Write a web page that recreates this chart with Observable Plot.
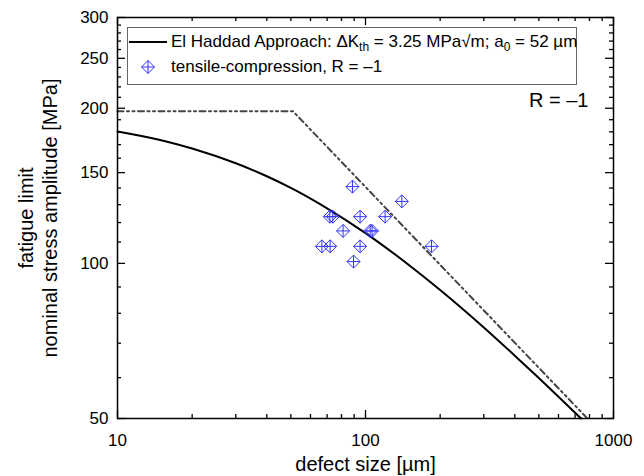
<!DOCTYPE html>
<html><head><meta charset="utf-8">
<script src="https://cdn.jsdelivr.net/npm/d3@7"></script>
<script src="https://cdn.jsdelivr.net/npm/@observablehq/plot@0.6"></script>
<style>
body{margin:0;background:#fff;font-family:Arial,"Liberation Sans",sans-serif;}
#wrap{position:relative;width:644px;height:476px;overflow:hidden;}
#legend{position:absolute;left:127px;top:27px;width:450px;height:58px;border:1px solid #666;box-sizing:border-box;background:#fff;font-size:17px;color:#000;}
.row{position:absolute;left:0;height:20px;line-height:20px;white-space:nowrap;}
.row svg{position:absolute;top:0;}
.row span{position:absolute;left:43px;top:0;}
sub{font-size:12px;vertical-align:-4px;line-height:0;}
#rlabel{position:absolute;left:529px;top:90px;font-size:20px;line-height:20px;color:#000;}
</style></head>
<body><div id="wrap"></div>
<script>
// El Haddad curve
const curveX = [10, 15, 20, 30, 40, 50, 70, 100, 150, 200, 300, 400, 500, 600, 740];
const curveY = [180.3, 173.4, 167.1, 156.4, 147.6, 140.1, 127.9, 114.5, 99.2, 88.8, 75.1, 66.2, 59.9, 55.1, 50];
// dash-dot limit line
const limitX = [10, 51, 785];
const limitY = [197.3, 197.3, 50];
// tensile-compression, R = -1 test points
const pointsX = [88.6, 140.1, 71.8, 73.8, 95.1, 120.0, 81.2, 104.4, 106.3, 66.7, 72.0, 95.1, 184.6, 89.5];
const pointsY = [140.9, 131.9, 123.2, 123.2, 123.2, 123.2, 115.6, 115.6, 115.6, 107.9, 107.9, 107.9, 107.9, 100.8];
// ticks
const xMajor = [10, 100, 1000];
const xMinor = [20, 30, 40, 50, 60, 70, 80, 90, 200, 300, 400, 500, 600, 700, 800, 900];
const yMajor = [50, 100, 150, 200, 250, 300];
const yMinor = [60, 70, 80, 90, 110, 120, 130, 140, 160, 170, 180, 190, 210, 220, 230, 240, 260, 270, 280, 290];

const W = 644, H = 476, mL = 117, mR = 31, mT = 17, mB = 58;
const PW = W - mL - mR, PH = H - mT - mB;

const curve = curveX.map((x, i) => ({x, y: curveY[i]}));
const limit = limitX.map((x, i) => ({x, y: limitY[i]}));
const pts = pointsX.map((x, i) => ({x, y: pointsY[i]}));

const diamondPlus = {
  draw(ctx, size) {
    const r = Math.sqrt(size / Math.PI);
    ctx.moveTo(0, -r); ctx.lineTo(r, 0); ctx.lineTo(0, r); ctx.lineTo(-r, 0); ctx.closePath();
    ctx.moveTo(0, -r); ctx.lineTo(0, r);
    ctx.moveTo(-r, 0); ctx.lineTo(r, 0);
  }
};

const tk = {stroke: "#000", strokeWidth: 1.3};
const chart = Plot.plot({
  width: W, height: H,
  marginLeft: mL, marginRight: mR, marginTop: mT, marginBottom: mB,
  style: {fontFamily: "Arial, 'Liberation Sans', sans-serif", fontSize: "17px", color: "#000", background: "#fff"},
  x: {type: "log", domain: [10, 1000]},
  y: {type: "log", domain: [50, 300]},
  marks: [
    Plot.line(limit, {x: "x", y: "y", stroke: "#444", strokeWidth: 2, strokeDasharray: "6,3.5,2,3.5,2,3.5"}),
    Plot.line(curve, {x: "x", y: "y", stroke: "#000", strokeWidth: 2, curve: "monotone-x"}),
    Plot.dot(pts, {x: "x", y: "y", symbol: diamondPlus, r: 6.5, stroke: "#3333ff", fill: "none", strokeWidth: 1}),
    // inward ticks, all four sides
    Plot.tickX(xMajor, {x: d => d, insetTop: PH - 8, ...tk}),
    Plot.tickX(xMinor, {x: d => d, insetTop: PH - 4, ...tk}),
    Plot.tickX(xMajor, {x: d => d, insetBottom: PH - 8, ...tk}),
    Plot.tickX(xMinor, {x: d => d, insetBottom: PH - 4, ...tk}),
    Plot.tickY(yMajor, {y: d => d, insetRight: PW - 8, ...tk}),
    Plot.tickY(yMinor, {y: d => d, insetRight: PW - 4, ...tk}),
    Plot.tickY(yMajor, {y: d => d, insetLeft: PW - 8, ...tk}),
    Plot.tickY(yMinor, {y: d => d, insetLeft: PW - 4, ...tk}),
    Plot.axisX({ticks: xMajor, tickSize: 0, tickPadding: 15, tickFormat: d => String(d), label: null, fontSize: 17}),
    Plot.axisY({ticks: yMajor, tickSize: 0, tickPadding: 9, tickFormat: d => String(d), label: null, fontSize: 17}),
    Plot.text(["defect size [µm]"], {frameAnchor: "bottom", dy: 46, fontSize: 20, lineAnchor: "middle"}),
    Plot.text(["fatigue limit\nnominal stress amplitude [MPa]"], {frameAnchor: "left", dx: -80, rotate: -90, fontSize: 20, lineHeight: 1.2, lineAnchor: "middle", textAnchor: "middle"}),
    Plot.frame({stroke: "#000", strokeWidth: 1.5})
  ]
});
const wrap = document.getElementById("wrap");
wrap.appendChild(chart);

const legend = document.createElement("div");
legend.id = "legend";
legend.innerHTML = `
<div class="row" style="top:3.5px;width:440px">
  <svg width="40" height="20" style="left:0"><line x1="1" x2="39" y1="10" y2="10" stroke="#000" stroke-width="2"/></svg>
  <span>El Haddad Approach: ΔK<sub>th</sub> = 3.25 MPa√m; a<sub>0</sub> = 52 µm</span>
</div>
<div class="row" style="top:28.5px;width:440px">
  <svg width="40" height="20" style="left:0"><path d="M20,3.5L26.5,10L20,16.5L13.5,10ZM20,3.5L20,16.5M13.5,10L26.5,10" fill="none" stroke="#3333ff" stroke-width="1"/></svg>
  <span>tensile-compression, R = –1</span>
</div>`;
wrap.appendChild(legend);

const rl = document.createElement("div");
rl.id = "rlabel";
rl.textContent = "R = –1";
wrap.appendChild(rl);
</script>
</body></html>
